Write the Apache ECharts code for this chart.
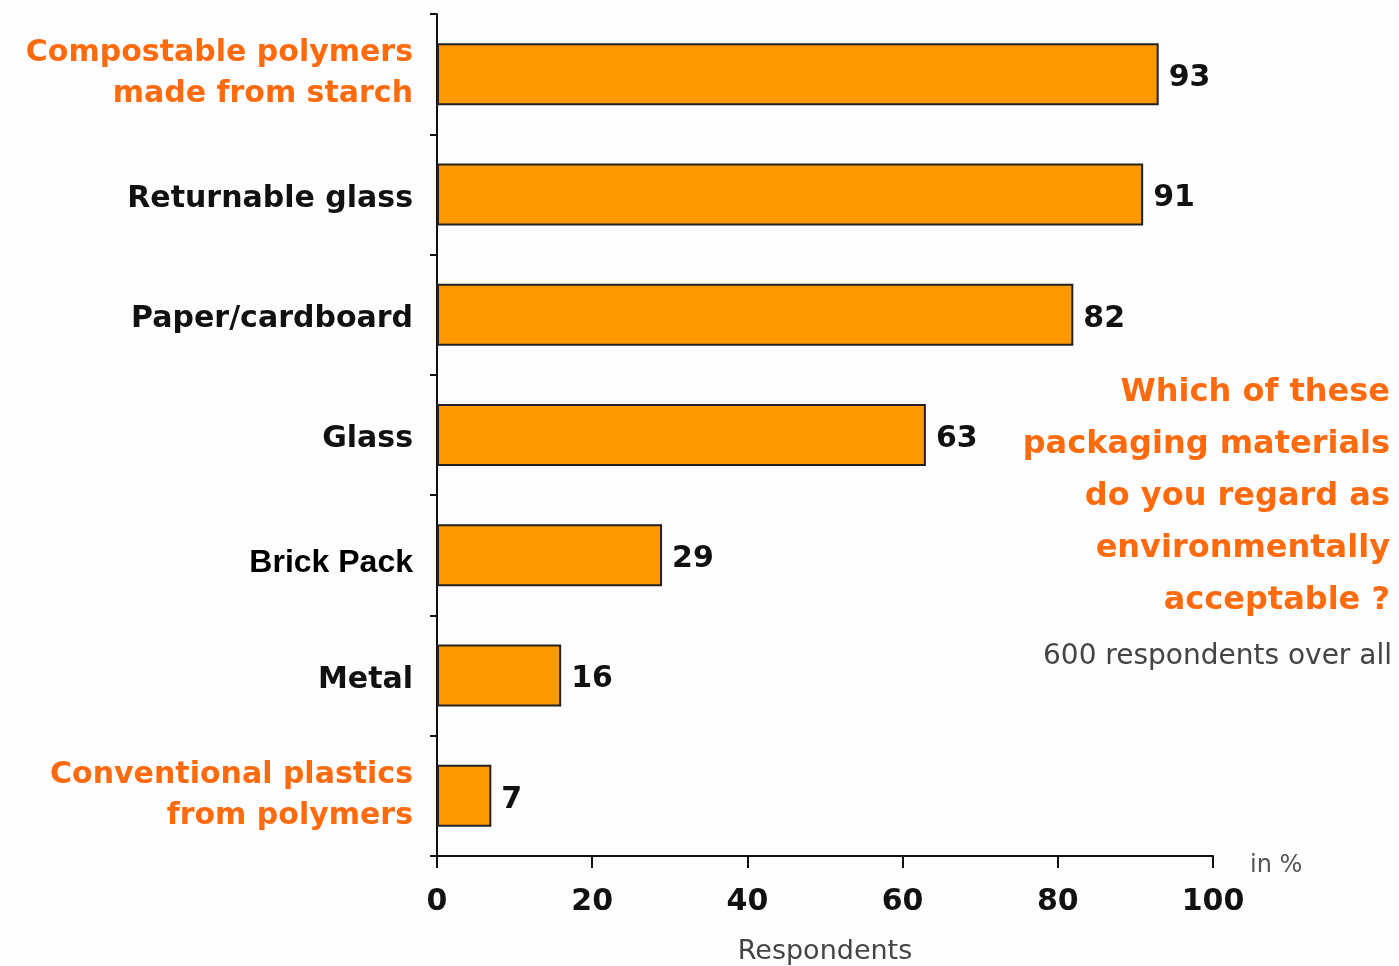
<!DOCTYPE html>
<html>
<head>
<meta charset="utf-8">
<script src="https://cdn.jsdelivr.net/npm/echarts@6/dist/echarts.min.js"></script>
<style>
  html, body { margin: 0; padding: 0; background: #fdfdfd; }
  #chart { width: 1399px; height: 966px; }
</style>
</head>
<body>
<div id="chart"></div>
<script>
// Packaging materials and the share of respondents who rate them as environmentally acceptable
const categories = [
  'Compostable polymers\nmade from starch',
  'Returnable glass',
  'Paper/cardboard',
  'Glass',
  'Brick Pack',
  'Metal',
  'Conventional plastics\nfrom polymers'
];
const values = [93, 91, 82, 63, 29, 16, 7];
const highlighted = ['Compostable polymers\nmade from starch', 'Conventional plastics\nfrom polymers'];
const xTicks = [0, 20, 40, 60, 80, 100];

const questionLines = [
  'Which of these',
  'packaging materials',
  'do you regard as',
  'environmentally',
  'acceptable ?'
];
const sampleNote = '600 respondents over all';
const unitNote = 'in %';
const xAxisName = 'Respondents';

const ORANGE_TEXT = '#ff6a0d';
const BAR = '#ff9900';
const FONT = '"DejaVu Sans", Verdana, sans-serif';

const chart = echarts.init(document.getElementById('chart'), null, { renderer: 'canvas' });

chart.setOption({
  backgroundColor: '#fdfdfd',
  animation: false,
  grid: { left: 437, right: 186, top: 14, bottom: 110, containLabel: false, outerBoundsMode: 'none' },
  xAxis: {
    type: 'value',
    min: 0,
    max: 100,
    interval: 20,
    splitLine: { show: false },
    axisLine: { show: true, lineStyle: { color: '#111', width: 2 } },
    axisTick: { show: true, length: 12, lineStyle: { color: '#111', width: 2 } },
    axisLabel: {
      margin: 31,
      fontFamily: FONT,
      fontWeight: 'bold',
      fontSize: 30,
      color: '#111',
      formatter: v => (xTicks.includes(v) ? String(v) : '')
    },
    name: xAxisName,
    nameLocation: 'middle',
    nameGap: 82,
    nameTextStyle: { fontFamily: FONT, fontSize: 27, color: '#444' }
  },
  yAxis: {
    type: 'category',
    inverse: true,
    data: categories,
    axisLine: { show: true, lineStyle: { color: '#111', width: 2 } },
    axisTick: { show: true, length: 7, lineStyle: { color: '#111', width: 2 } },
    axisLabel: {
      margin: 24,
      align: 'right',
      formatter: (v) => {
        const tag = highlighted.includes(v) ? 'hl' : (v === 'Brick Pack' ? 'arial' : 'std');
        return v.split('\n').map(l => '{' + tag + '|' + l + '}').join('\n');
      },
      rich: {
        std: { fontFamily: FONT, fontWeight: 'bold', fontSize: 30, color: '#111', lineHeight: 41, padding: [9, 0, 0, 0] },
        hl: { fontFamily: FONT, fontWeight: 'bold', fontSize: 30, color: ORANGE_TEXT, lineHeight: 41 },
        arial: { fontFamily: '"Liberation Sans", Arial, sans-serif', fontWeight: 'bold', fontSize: 32, color: '#000', lineHeight: 41, padding: [16, 0, 0, 0] }
      }
    }
  },
  series: [{
    type: 'bar',
    data: values,
    barWidth: 62,
    itemStyle: { color: BAR, borderColor: '#222', borderWidth: 2 },
    label: {
      show: true,
      position: 'right',
      distance: 10,
      offset: [0, 4],
      fontFamily: FONT,
      fontWeight: 'bold',
      fontSize: 30,
      color: '#111'
    }
  }],
  graphic: [
    {
      type: 'text',
      right: 9,
      top: 367,
      style: {
        text: questionLines.join('\n'),
        font: 'bold 32px ' + FONT,
        fill: ORANGE_TEXT,
        textAlign: 'right',
        lineHeight: 52
      }
    },
    {
      type: 'text',
      right: 7,
      top: 643,
      style: {
        text: sampleNote,
        font: '28px ' + FONT,
        fill: '#444',
        textAlign: 'right'
      }
    },
    {
      type: 'text',
      left: 1250,
      top: 854,
      style: {
        text: unitNote,
        font: '24px ' + FONT,
        fill: '#555'
      }
    }
  ]
});
</script>
</body>
</html>
